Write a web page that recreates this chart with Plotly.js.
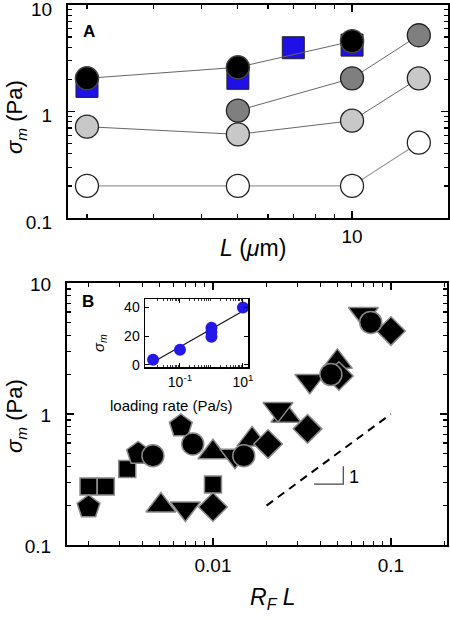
<!DOCTYPE html>
<html>
<head>
<meta charset="utf-8">
<script src="https://cdn.plot.ly/plotly-3.0.1.min.js"></script>
<style>html,body{margin:0;padding:0;background:#fff;}#chart{width:450px;height:617px;}</style>
</head>
<body>
<div id="chart"></div>
<script>
// ---------- Panel A data ----------
const lengthA = [2, 5, 10, 15];
const whiteA = [0.2, 0.2, 0.2, 0.51];
const lightA = [0.72, 0.61, 0.82, 2.05];
const darkX = [5, 10, 15];
const darkA = [1.02, 2.05, 5.2];
const blackX = [2, 5, 10];
const blackA = [2.05, 2.6, 4.57];
const blueX = [2, 5, 7, 10];
const blueA = [1.72, 2.05, 3.97, 4.2];

// ---------- Panel B data ----------
const sqX = [0.002, 0.0025, 0.0033, 0.01];
const sqY = [0.28, 0.28, 0.38, 0.29];
const pentX = [0.002, 0.0038, 0.0066];
const pentY = [0.195, 0.5, 0.81];
const triUpX = [0.0051, 0.01, 0.0166, 0.0257, 0.05];
const triUpY = [0.2, 0.51, 0.64, 0.97, 2.5];
const triDnX = [0.007, 0.0133, 0.0232, 0.035, 0.07];
const triDnY = [0.19, 0.48, 1.09, 1.79, 5.8];
const diaX = [0.01, 0.0204, 0.034, 0.051, 0.1];
const diaY = [0.195, 0.59, 0.77, 1.95, 4.3];
const circX = [0.0046, 0.0077, 0.0149, 0.046, 0.077];
const circY = [0.48, 0.59, 0.48, 2.0, 5.0];
const dashX = [0.02, 0.1];
const dashY = [0.2, 1.0];
const slopeX = [0.037, 0.054, 0.054];
const slopeY = [0.292, 0.292, 0.40];

// ---------- Inset data ----------
const rateX = [0.014, 0.1, 1, 1, 1, 10];
const rateY = [3.5, 10.5, 26, 23, 19.6, 40];
const fitX = [0.01, 12.6];
const fitY = [0, 38.9];

// ---------- tick labels ----------
const tickA_x = [10], tickA_xText = ['10'];
const tickY = [0.1, 1, 10], tickYText = ['0.1', '1', '10'];
const tickB_x = [0.01, 0.1], tickB_xText = ['0.01', '0.1'];
const tickIn_x = [0.1, 10], tickIn_xText = ['10<sup>-1</sup>', '10<sup>1</sup>'];
const tickIn_y = [0, 20, 40], tickIn_yText = ['0', '20', '40'];
const minorA_x = [2, 3, 4, 5, 6, 7, 8, 9];
const minorY = [0.2, 0.3, 0.4, 0.5, 0.6, 0.7, 0.8, 0.9, 2, 3, 4, 5, 6, 7, 8, 9];
const minorB_x = [0.002, 0.003, 0.004, 0.005, 0.006, 0.007, 0.008, 0.009, 0.02, 0.03, 0.04, 0.05, 0.06, 0.07, 0.08, 0.09, 0.2];
const minorIn_x = [0.02, 0.03, 0.04, 0.05, 0.06, 0.07, 0.08, 0.09, 0.2, 0.3, 0.4, 0.5, 0.6, 0.7, 0.8, 0.9, 2, 3, 4, 5, 6, 7, 8, 9];

const FONT = 'Liberation Sans, Arial, sans-serif';
const W = 450, H = 617;
const px = v => v / W, py = v => 1 - v / H;

const lineGray = {color: '#666', width: 1};
const circEdge = {color: '#222', width: 1.3};
const bEdge = {color: '#8a8a8a', width: 1.5};

const traces = [
  // Panel A
  {x: lengthA, y: whiteA, mode: 'lines+markers', xaxis: 'x', yaxis: 'y', line: {color: '#999', width: 1.2},
   marker: {symbol: 'circle', size: 23, color: '#ffffff', line: circEdge}},
  {x: lengthA, y: lightA, mode: 'lines+markers', xaxis: 'x', yaxis: 'y', line: lineGray,
   marker: {symbol: 'circle', size: 23, color: '#c8c8c8', line: circEdge}},
  {x: darkX, y: darkA, mode: 'lines+markers', xaxis: 'x', yaxis: 'y', line: lineGray,
   marker: {symbol: 'circle', size: 23, color: '#7f7f7f', line: circEdge}},
  {x: blueX, y: blueA, mode: 'markers', xaxis: 'x', yaxis: 'y',
   marker: {symbol: 'square', size: 22, color: '#1e10e6', line: {color: '#222', width: 1}}},
  {x: blackX, y: blackA, mode: 'lines+markers', xaxis: 'x', yaxis: 'y', line: lineGray,
   marker: {symbol: 'circle', size: 23, color: '#000000', line: {color: '#444', width: 1.5}}},
  // Panel B
  {x: dashX, y: dashY, mode: 'lines', xaxis: 'x2', yaxis: 'y2', line: {color: '#000', width: 2, dash: '8px,6px'}},
  {x: slopeX, y: slopeY, mode: 'lines', xaxis: 'x2', yaxis: 'y2', line: {color: '#444', width: 1.2}},
  {x: sqX, y: sqY, mode: 'markers', xaxis: 'x2', yaxis: 'y2', marker: {symbol: 'square', size: 17, color: '#000', line: bEdge}},
  {x: pentX, y: pentY, mode: 'markers', xaxis: 'x2', yaxis: 'y2', marker: {symbol: 'pentagon', size: 24, color: '#000', line: bEdge}},
  {x: triUpX, y: triUpY, mode: 'markers', xaxis: 'x2', yaxis: 'y2', marker: {symbol: 'triangle-up', size: 26, color: '#000', line: bEdge}},
  {x: triDnX, y: triDnY, mode: 'markers', xaxis: 'x2', yaxis: 'y2', marker: {symbol: 'triangle-down', size: 26, color: '#000', line: bEdge}},
  {x: diaX, y: diaY, mode: 'markers', xaxis: 'x2', yaxis: 'y2', marker: {symbol: 'diamond', size: 22, color: '#000', line: bEdge}},
  {x: circX, y: circY, mode: 'markers', xaxis: 'x2', yaxis: 'y2', marker: {symbol: 'circle', size: 22, color: '#000', line: bEdge}},
  // Inset
  {x: fitX, y: fitY, mode: 'lines', xaxis: 'x3', yaxis: 'y3', line: {color: '#111', width: 1.2}},
  {x: rateX, y: rateY, mode: 'markers', xaxis: 'x3', yaxis: 'y3', marker: {symbol: 'circle', size: 12, color: '#2418e8', line: {width: 0}}},
  // empty carriers for the minor-tick overlay axes
  {x: [], y: [], mode: 'markers', xaxis: 'x4', yaxis: 'y', hoverinfo: 'skip'},
  {x: [], y: [], mode: 'markers', xaxis: 'x', yaxis: 'y4', hoverinfo: 'skip'},
  {x: [], y: [], mode: 'markers', xaxis: 'x5', yaxis: 'y2', hoverinfo: 'skip'},
  {x: [], y: [], mode: 'markers', xaxis: 'x2', yaxis: 'y5', hoverinfo: 'skip'},
  {x: [], y: [], mode: 'markers', xaxis: 'x6', yaxis: 'y3', hoverinfo: 'skip'}
];

const mainAxis = {
  type: 'log', showline: true, linecolor: '#000', linewidth: 2, mirror: 'ticks',
  ticks: 'inside', ticklen: 7, tickwidth: 1.5, tickcolor: '#000', showgrid: false, zeroline: false,
  tickfont: {family: FONT, size: 19, color: '#000'}, tickmode: 'array', ticklabeloverflow: 'allow'
};
const minorAxis = {
  type: 'log', showline: false, mirror: 'ticks', ticks: 'inside', ticklen: 4, tickwidth: 1.2, tickcolor: '#000',
  showgrid: false, zeroline: false, showticklabels: false, tickmode: 'array'
};

const layout = {
  width: W, height: H, margin: {l: 0, r: 0, t: 0, b: 0},
  paper_bgcolor: '#fff', plot_bgcolor: '#fff', showlegend: false,
  font: {family: FONT, color: '#000'},
  xaxis: Object.assign({}, mainAxis, {domain: [px(68), px(448)], range: [0.251, 1.253], anchor: 'y',
    tickvals: tickA_x, ticktext: tickA_xText, ticklabelstandoff: 0}),
  yaxis: Object.assign({}, mainAxis, {domain: [py(218), py(5)], range: [-1, 1], anchor: 'x',
    tickvals: tickY, ticktext: tickYText, ticklabelstandoff: 10, ticklabelshift: 4}),
  xaxis4: Object.assign({}, minorAxis, {domain: [px(68), px(448)], range: [0.251, 1.253], anchor: 'y', overlaying: 'x',
    tickvals: minorA_x}),
  yaxis4: Object.assign({}, minorAxis, {domain: [py(218), py(5)], range: [-1, 1], anchor: 'x', overlaying: 'y',
    tickvals: minorY}),
  xaxis2: Object.assign({}, mainAxis, {domain: [px(67), px(447)], range: [-2.82, -0.685], anchor: 'y2',
    tickvals: tickB_x, ticktext: tickB_xText, ticklabelstandoff: 2}),
  yaxis2: Object.assign({}, mainAxis, {domain: [py(545), py(283)], range: [-1, 1], anchor: 'x2',
    tickvals: tickY, ticktext: tickYText, ticklabelstandoff: 10, ticklabelshift: 1}),
  xaxis5: Object.assign({}, minorAxis, {domain: [px(67), px(447)], range: [-2.82, -0.685], anchor: 'y2', overlaying: 'x2',
    tickvals: minorB_x}),
  yaxis5: Object.assign({}, minorAxis, {domain: [py(545), py(283)], range: [-1, 1], anchor: 'x2', overlaying: 'y2',
    tickvals: minorY}),
  xaxis3: {type: 'log', domain: [px(145), px(248)], range: [-2.11, 1.16], anchor: 'y3',
    showline: true, linecolor: '#000', linewidth: 1.5, mirror: 'ticks', ticks: 'inside', ticklen: 4, tickwidth: 1,
    tickcolor: '#000', showgrid: false, zeroline: false, tickmode: 'array', tickvals: tickIn_x, ticktext: tickIn_xText,
    tickfont: {family: FONT, size: 14, color: '#000'}, ticklabelstandoff: 2},
  xaxis6: Object.assign({}, minorAxis, {domain: [px(145), px(248)], range: [-2.11, 1.16], anchor: 'y3', overlaying: 'x3',
    tickvals: minorIn_x, ticklen: 2, tickwidth: 0.8}),
  yaxis3: {domain: [py(367), py(299)], range: [-1.5, 46], anchor: 'x3',
    showline: true, linecolor: '#000', linewidth: 1.5, mirror: 'ticks', ticks: 'inside', ticklen: 4, tickwidth: 1,
    tickcolor: '#000', showgrid: false, zeroline: false, tickmode: 'array', tickvals: tickIn_y, ticktext: tickIn_yText,
    tickfont: {family: FONT, size: 14, color: '#000'}, ticklabelstandoff: 1},
  annotations: [
    {text: '<i>σ<sub>m</sub></i> (Pa)', xref: 'paper', yref: 'paper', x: px(16), y: py(117), textangle: -90,
     showarrow: false, xanchor: 'center', yanchor: 'middle', font: {family: FONT, size: 22}},
    {text: '<i>σ<sub>m</sub></i> (Pa)', xref: 'paper', yref: 'paper', x: px(16), y: py(416), textangle: -90,
     showarrow: false, xanchor: 'center', yanchor: 'middle', font: {family: FONT, size: 22}},
    {text: '<i>L</i> (<i>μ</i>m)', xref: 'paper', yref: 'paper', x: px(253), y: py(248),
     showarrow: false, xanchor: 'center', yanchor: 'middle', font: {family: FONT, size: 23}},
    {text: '<i>R<sub>F</sub> L</i>', xref: 'paper', yref: 'paper', x: px(273), y: py(598),
     showarrow: false, xanchor: 'center', yanchor: 'middle', font: {family: FONT, size: 23}},
    {text: '<b>A</b>', xref: 'paper', yref: 'paper', x: px(89), y: py(31),
     showarrow: false, xanchor: 'center', yanchor: 'middle', font: {family: FONT, size: 17}},
    {text: '<b>B</b>', xref: 'paper', yref: 'paper', x: px(88), y: py(301),
     showarrow: false, xanchor: 'center', yanchor: 'middle', font: {family: FONT, size: 17}},
    {text: '<i>σ<sub>m</sub></i>', xref: 'paper', yref: 'paper', x: px(99), y: py(343), textangle: -90,
     showarrow: false, xanchor: 'center', yanchor: 'middle', font: {family: FONT, size: 15}},
    {text: 'loading rate (Pa/s)', xref: 'paper', yref: 'paper', x: px(171), y: py(405),
     showarrow: false, xanchor: 'center', yanchor: 'middle', font: {family: FONT, size: 15}},
    {text: '1', xref: 'paper', yref: 'paper', x: px(354), y: py(477),
     showarrow: false, xanchor: 'center', yanchor: 'middle', font: {family: FONT, size: 18}}
  ]
};

Plotly.newPlot('chart', traces, layout, {staticPlot: true, displayModeBar: false});
</script>
</body>
</html>
